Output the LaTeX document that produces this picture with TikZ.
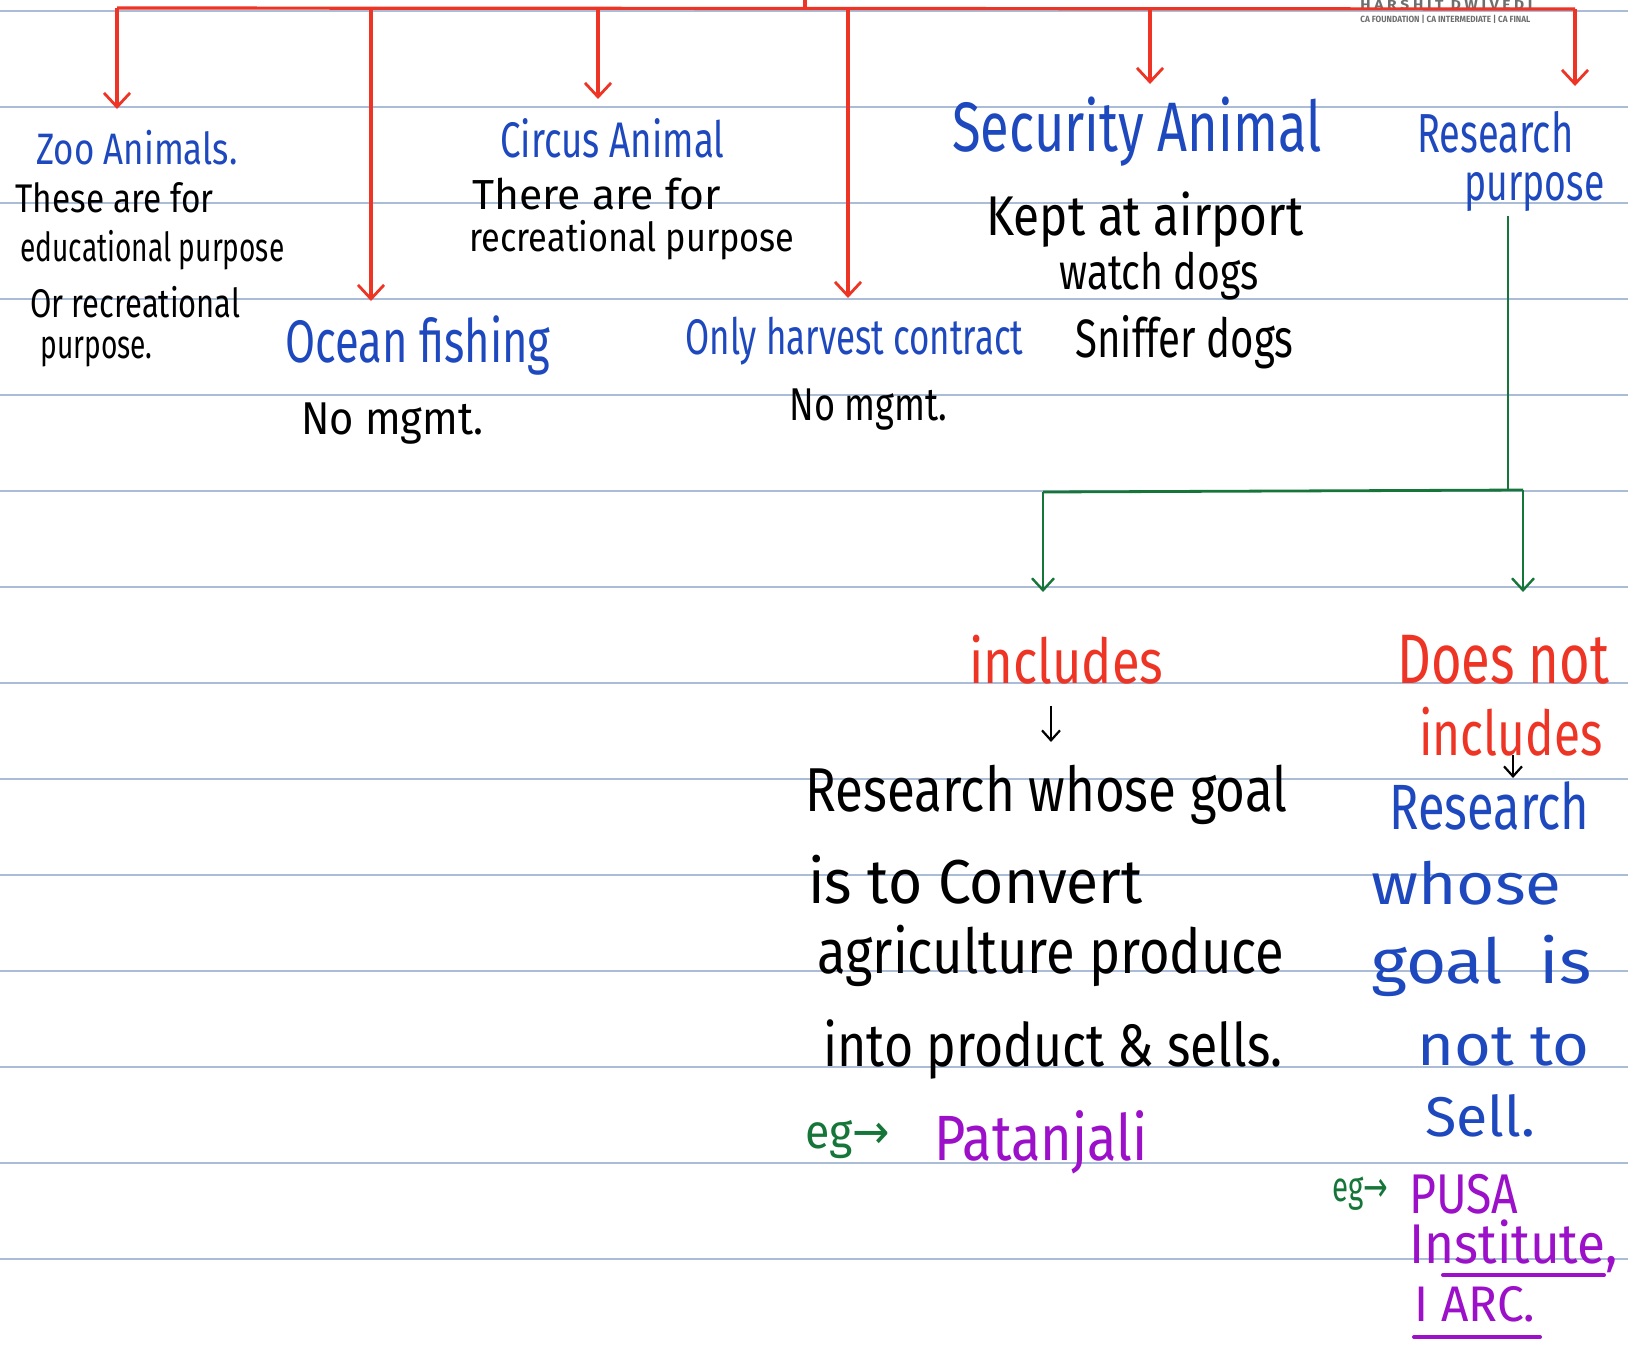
\documentclass[tikz,border=0pt]{standalone}
\usepackage{fontspec}
\setmainfont{Fira Sans}
\newfontfamily\djv{DejaVu Sans}
\usetikzlibrary{arrows.meta}
\newlength\pxu
\setlength\pxu{0.5pt}
% \hw{width px}{font size px}{text}: text at a size, scaled horizontally to a width
\newcommand{\hw}[3]{\resizebox{#1\pxu}{\height}{\fontsize{#2\pxu}{#2\pxu}\selectfont #3}}
\definecolor{inkblue}{RGB}{30,72,190}
\definecolor{inkred}{RGB}{238,52,36}
\definecolor{inkgreen}{RGB}{22,118,58}
\definecolor{inkpurple}{RGB}{155,16,200}
\definecolor{rule}{RGB}{170,188,214}
\definecolor{logo}{RGB}{110,110,110}
\tikzset{
  txt/.style={inner sep=0pt, anchor=west},
  ruleline/.style={rule, line width=0.8pt},
  redarrow/.style={inkred, line width=1.6pt, -{Straight Barb[length=7pt,width=13pt,line width=1.4pt]}},
  redline/.style={inkred, line width=1.6pt},
  greenarrow/.style={inkgreen, line width=1.4pt, -{Straight Barb[length=6pt,width=11pt,line width=1.2pt]}},
  greenline/.style={inkgreen, line width=1.4pt},
  smallarrow/.style={line width=1.2pt, -{Straight Barb[length=5pt,width=9pt,line width=1.1pt]}},
  purpleline/.style={inkpurple, line width=2pt, line cap=round}
}
\begin{document}
\begin{tikzpicture}[x=0.5pt,y=-0.5pt]
\useasboundingbox (0,0) rectangle (1628,1345);
\fill[white] (0,0) rectangle (1628,1345);
% ruled lines
\foreach \k in {0,...,13} {
  \draw[ruleline] (0,11+96*\k) -- (1628,11+96*\k);
}
% logo
\node[txt, logo] (logo1) at (1360,5) {\hw{172}{13}{\bfseries H A R S H I T\ \ D W I V E D I}};
\node[txt, logo] (logo2) at (1360,19) {\hw{170}{9}{\bfseries CA FOUNDATION | CA INTERMEDIATE | CA FINAL}};

% red tree
\coordinate (top) at (805,0);
\coordinate (hl) at (117,8);
\coordinate (hr) at (1575,9);
\coordinate (jtop) at (805,8);
\coordinate (b1) at (117,8);
\coordinate (b2) at (371,8);
\coordinate (b3) at (598,8);
\coordinate (b4) at (848,8);
\coordinate (b5) at (1150,8);
\coordinate (b6) at (1575,9);
\coordinate (t1) at (117,109);
\coordinate (t2) at (371,301);
\coordinate (t3) at (598,99);
\coordinate (t4) at (848,298);
\coordinate (t5) at (1150,84);
\coordinate (t6) at (1575,86);
\draw[redline] (top) -- (jtop);
\draw[redline] (hl) -- (hr);
\draw[redarrow] (b1) -- (t1);
\draw[redarrow] (b2) -- (t2);
\draw[redarrow] (b3) -- (t3);
\draw[redarrow] (b4) -- (t4);
\draw[redarrow] (b5) -- (t5);
\draw[redarrow] (b6) -- (t6);

% Zoo animals
\node[txt, inkblue] (zoo) at (36,148) {\hw{201}{44}{Zoo Animals.}};
\node[txt] (zoo1) at (15,198) {\hw{198}{40}{These are for}};
\node[txt] (zoo2) at (20,250) {\hw{264}{40}{educational purpose}};
\node[txt] (zoo3) at (30,302) {\hw{210}{40}{Or recreational}};
\node[txt] (zoo4) at (40,352) {\hw{112}{40}{purpose.}};

% Circus
\node[txt, inkblue] (circ) at (500,138) {\hw{224}{50}{Circus Animal}};
\node[txt] (circ1) at (472,194) {\hw{248}{42}{There are for}};
\node[txt] (circ2) at (469,240) {\hw{325}{40}{recreational purpose}};

% Ocean
\node[txt, inkblue] (ocean) at (285,345) {\hw{265}{60}{Ocean fishing}};
\node[txt] (ocean1) at (301,424) {\hw{182}{46}{No mgmt.}};

% Only harvest
\node[txt, inkblue] (harv) at (685,341) {\hw{338}{50}{Only harvest contract}};
\node[txt] (harv1) at (789,410) {\hw{158}{46}{No mgmt.}};

% Security
\node[txt, inkblue] (sec) at (952,132) {\hw{369}{70}{Security Animal}};
\node[txt] (sec1) at (986,220) {\hw{317}{56}{Kept at airport}};
\node[txt] (sec2) at (1059,276) {\hw{199}{50}{watch dogs}};
\node[txt] (sec3) at (1075,342) {\hw{218}{54}{Sniffer dogs}};

% Research purpose
\node[txt, inkblue] (res) at (1417,132) {\hw{156}{55}{Research}};
\node[txt, inkblue] (res1) at (1464,192) {\hw{140}{52}{purpose}};

% green tree
\coordinate (g0) at (1508,216);
\coordinate (gj) at (1508,490);
\coordinate (gl) at (1043,492);
\coordinate (gr) at (1523,490);
\coordinate (gl2) at (1043,592);
\coordinate (gr2) at (1523,592);
\draw[greenline] (g0) -- (gj);
\draw[greenline] (gl) -- (gr);
\draw[greenarrow] (gl) -- (gl2);
\draw[greenarrow] (gr) -- (gr2);

% includes
\node[txt, inkred] (inc) at (969,660) {\hw{194}{62}{includes}};
\coordinate (a1) at (1051,706);
\coordinate (a2) at (1051,742);
\draw[smallarrow] (a1) -- (a2);
\node[txt] (r1) at (805,795) {\hw{482}{62}{Research whose goal}};
\node[txt] (r2) at (808,880) {\hw{334}{62}{is to Convert}};
\node[txt] (r3) at (817,956) {\hw{467}{62}{agriculture produce}};
\node[txt] (r4) at (823,1049) {\hw{459}{60}{into product \& sells.}};
\node[txt, inkgreen] (eg1) at (805,1140) {\hw{85}{48}{eg{\djv →}}};
\node[txt, inkpurple] (pat) at (934,1142) {\hw{213}{64}{Patanjali}};

% does not include
\node[txt, inkred] (dn) at (1397,660) {\hw{212}{70}{Does not}};
\node[txt, inkred] (dn1) at (1419,732) {\hw{183}{62}{includes}};
\coordinate (a3) at (1513,755);
\coordinate (a4) at (1513,778);
\draw[smallarrow] (a3) -- (a4);
\node[txt, inkblue] (s1) at (1389,806) {\hw{200}{64}{Research}};
\node[txt, inkblue] (s2) at (1371,883) {\hw{190}{58}{whose}};
\node[txt, inkblue] (s3) at (1371,966) {\hw{220}{62}{goal\ \ is}};
\node[txt, inkblue] (s4) at (1417,1047) {\hw{172}{58}{not\ to}};
\node[txt, inkblue] (s5) at (1425,1116) {\hw{110}{56}{Sell.}};
\node[txt, inkgreen] (eg2) at (1332,1194) {\hw{56}{42}{eg{\djv →}}};
\node[txt, inkpurple] (pusa) at (1409,1194) {\hw{109}{56}{PUSA}};
\node[txt, inkpurple] (inst) at (1409,1246) {\hw{208}{56}{Institute,}};
\node[txt, inkpurple] (iarc) at (1414,1304) {\hw{121}{50}{I ARC.}};
\coordinate (u1) at (1443,1275);
\coordinate (u2) at (1604,1275);
\coordinate (u3) at (1414,1337);
\coordinate (u4) at (1540,1337);
\draw[purpleline] (u1) -- (u2);
\draw[purpleline] (u3) -- (u4);
\end{tikzpicture}
\end{document}
